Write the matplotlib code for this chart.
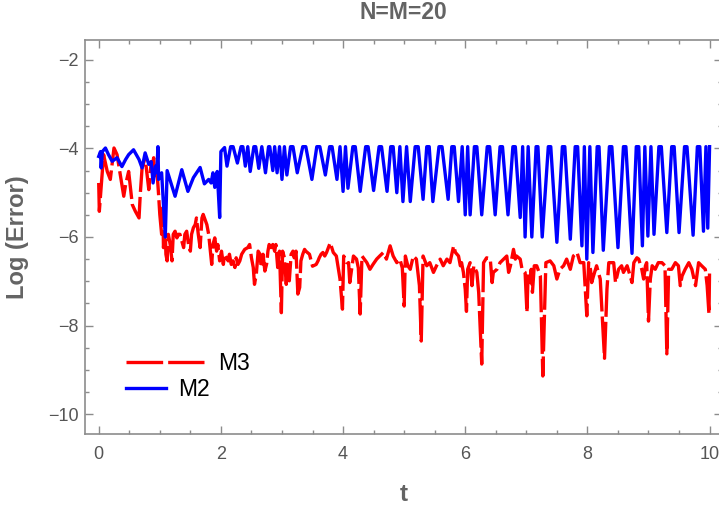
import matplotlib.pyplot as plt
from matplotlib.ticker import MultipleLocator

# ---------- data ----------
# M3 : (t, log error)
m3_pts = [
    (0.00, -4.78), (0.01, -5.42), (0.06, -4.52), (0.08, -4.14), (0.14, -4.52),
    (0.19, -4.70), (0.25, -3.99), (0.30, -4.14), (0.36, -4.66), (0.41, -5.08),
    (0.44, -4.82), (0.49, -4.52), (0.55, -5.27), (0.60, -5.42), (0.66, -5.57),
    (0.68, -5.04), (0.71, -4.44), (0.76, -4.21), (0.82, -4.93), (0.86, -4.30),
    (0.88, -4.36), (0.90, -4.21), (0.92, -4.66), (0.95, -4.44), (0.98, -5.04),
    (1.00, -5.49), (1.03, -5.94), (1.05, -5.34), (1.06, -6.24), (1.09, -5.87),
    (1.10, -6.39), (1.12, -6.54), (1.14, -5.94), (1.17, -6.17), (1.20, -6.54),
    (1.22, -5.94), (1.25, -5.87), (1.28, -6.02), (1.30, -5.94), (1.33, -5.94),
    (1.36, -6.09), (1.39, -6.24), (1.41, -5.94), (1.44, -5.87), (1.47, -6.17),
    (1.50, -6.32), (1.52, -5.94), (1.55, -5.79), (1.58, -5.72), (1.60, -5.57),
    (1.63, -5.94), (1.66, -6.24), (1.69, -5.57), (1.71, -5.49), (1.77, -5.72),
    (1.80, -5.94), (1.85, -6.62), (1.87, -6.17), (1.90, -6.02), (1.93, -6.32),
    (1.95, -6.17), (1.98, -6.54), (2.01, -6.32), (2.04, -6.62), (2.06, -6.39),
    (2.09, -6.47), (2.12, -6.54), (2.14, -6.39), (2.17, -6.62), (2.20, -6.54),
    (2.23, -6.69), (2.25, -6.47), (2.28, -6.62), (2.31, -6.54), (2.34, -6.39),
    (2.39, -6.28), (2.44, -6.24), (2.47, -6.17), (2.50, -6.47), (2.53, -6.69),
    (2.55, -7.07), (2.58, -6.84), (2.61, -6.32), (2.64, -6.39), (2.66, -6.69),
    (2.69, -6.39), (2.72, -6.77), (2.75, -6.60), (2.77, -6.32), (2.79, -6.17),
    (2.82, -6.24), (2.85, -6.17), (2.88, -6.32), (2.90, -6.17), (2.93, -6.69),
    (2.96, -6.32), (2.99, -7.71), (3.01, -6.32), (3.04, -6.47), (3.07, -7.07),
    (3.09, -6.62), (3.12, -6.99), (3.15, -6.39), (3.18, -6.32), (3.20, -6.47),
    (3.23, -6.32), (3.26, -7.29), (3.29, -7.14), (3.31, -6.54), (3.34, -6.39),
    (3.37, -6.28), (3.39, -6.32), (3.45, -6.39), (3.50, -6.66), (3.56, -6.62),
    (3.59, -6.54), (3.61, -6.47), (3.64, -6.39), (3.67, -6.35), (3.70, -6.43),
    (3.73, -6.35), (3.79, -6.13), (3.84, -6.35), (3.89, -6.43), (3.95, -6.95),
    (3.99, -7.63), (4.01, -6.43), (4.06, -6.58), (4.09, -6.58), (4.11, -7.03),
    (4.17, -6.43), (4.22, -6.50), (4.25, -6.70), (4.28, -7.74), (4.31, -6.43),
    (4.39, -6.58), (4.44, -6.73), (4.49, -6.62), (4.55, -6.50), (4.60, -6.43),
    (4.66, -6.35), (4.71, -6.50), (4.77, -6.20), (4.82, -6.43), (4.88, -6.58),
    (4.93, -6.50), (4.97, -6.70), (5.00, -7.56), (5.02, -6.43), (5.06, -6.65),
    (5.10, -6.73), (5.15, -6.43), (5.20, -6.50), (5.25, -7.10), (5.28, -8.35),
    (5.31, -6.43), (5.37, -6.65), (5.42, -6.58), (5.48, -6.80), (5.53, -6.65),
    (5.59, -6.50), (5.64, -6.65), (5.70, -6.50), (5.75, -6.58), (5.81, -6.20),
    (5.84, -6.35), (5.89, -6.43), (5.92, -6.65), (5.94, -6.58), (5.97, -6.80),
    (6.00, -7.18), (6.02, -7.68), (6.04, -6.73), (6.08, -6.58), (6.11, -7.10),
    (6.14, -6.65), (6.19, -6.80), (6.22, -7.25), (6.27, -8.87), (6.30, -6.58),
    (6.35, -6.47), (6.41, -6.50), (6.44, -7.03), (6.46, -6.80), (6.52, -6.73),
    (6.57, -6.58), (6.63, -6.50), (6.68, -6.43), (6.71, -6.80), (6.74, -6.65),
    (6.79, -6.28), (6.82, -6.50), (6.84, -6.43), (6.90, -6.50), (6.93, -6.73),
    (6.98, -6.80), (7.01, -7.70), (7.03, -6.80), (7.06, -7.03), (7.08, -6.73),
    (7.10, -7.25), (7.13, -6.65), (7.17, -6.65), (7.23, -6.88), (7.27, -9.14),
    (7.32, -6.58), (7.39, -6.54), (7.45, -6.65), (7.50, -6.95), (7.55, -6.73),
    (7.61, -6.65), (7.66, -6.50), (7.72, -6.73), (7.77, -6.43), (7.83, -6.35),
    (7.88, -6.58), (7.94, -6.58), (7.99, -7.78), (8.02, -6.58), (8.05, -6.73),
    (8.07, -7.03), (8.10, -6.88), (8.15, -6.65), (8.21, -6.95), (8.28, -8.74),
    (8.32, -7.18), (8.35, -6.58), (8.43, -6.58), (8.46, -7.03), (8.51, -6.73),
    (8.56, -6.65), (8.59, -6.80), (8.65, -6.65), (8.70, -6.88), (8.73, -7.03),
    (8.76, -6.58), (8.81, -6.47), (8.84, -6.50), (8.89, -6.73), (8.92, -6.95),
    (8.95, -6.65), (8.97, -6.58), (9.00, -7.90), (9.03, -6.95), (9.06, -6.65),
    (9.11, -6.73), (9.16, -6.58), (9.22, -6.58), (9.27, -6.65), (9.30, -8.64),
    (9.33, -6.73), (9.38, -6.73), (9.44, -6.58), (9.49, -6.65), (9.52, -7.10),
    (9.55, -6.88), (9.60, -6.73), (9.66, -6.58), (9.71, -6.73), (9.77, -7.10),
    (9.82, -6.58), (9.87, -6.65), (9.93, -6.73), (9.96, -7.10), (9.99, -7.74),
    (10.00, -6.73),
]

# M2 : (t, log error)
m2_pts = [
    (0.00, -4.18), (0.03, -4.07), (0.04, -4.44), (0.06, -4.07), (0.11, -3.99),
    (0.16, -4.14), (0.22, -4.29), (0.30, -4.21), (0.38, -4.41), (0.44, -4.25),
    (0.49, -4.14), (0.57, -4.03), (0.66, -4.25), (0.71, -4.44), (0.76, -4.10),
    (0.82, -4.36), (0.86, -4.30), (0.89, -4.78), (0.93, -4.40), (0.95, -4.55),
    (0.97, -3.96), (0.98, -4.70), (1.03, -4.55), (1.09, -6.00), (1.12, -4.50),
    (1.25, -5.08), (1.36, -4.48), (1.46, -4.97), (1.55, -4.66), (1.66, -4.43),
    (1.73, -4.80), (1.80, -4.70), (1.84, -4.78), (1.87, -4.55), (1.90, -4.88),
    (1.94, -4.52), (1.98, -5.56), (2.00, -4.07), (2.06, -3.98), (2.10, -4.40),
    (2.16, -3.96), (2.20, -3.96), (2.27, -4.33), (2.33, -3.96), (2.36, -3.96),
    (2.40, -4.40), (2.44, -3.96), (2.48, -4.52), (2.54, -3.96), (2.57, -3.96),
    (2.62, -4.45), (2.67, -3.96), (2.73, -4.55), (2.78, -3.96), (2.80, -3.96),
    (2.85, -4.50), (2.88, -3.96), (2.92, -4.55), (2.96, -3.96), (3.00, -4.70),
    (3.04, -3.96), (3.08, -4.60), (3.14, -3.96), (3.18, -3.96), (3.25, -4.55),
    (3.34, -3.96), (3.39, -3.96), (3.49, -4.70), (3.57, -3.96), (3.62, -3.96),
    (3.71, -4.60), (3.78, -3.96), (3.82, -3.96), (3.90, -4.70), (3.95, -3.96),
    (4.00, -4.97), (4.04, -3.96), (4.08, -4.90), (4.16, -3.96), (4.20, -3.96),
    (4.28, -4.97), (4.37, -3.96), (4.41, -3.96), (4.50, -4.95), (4.59, -3.96),
    (4.63, -3.96), (4.72, -4.97), (4.78, -3.96), (4.82, -3.96), (4.88, -5.00),
    (4.93, -3.96), (4.98, -5.20), (5.04, -3.96), (5.10, -5.20), (5.18, -3.96),
    (5.23, -3.96), (5.31, -5.15), (5.37, -3.96), (5.41, -3.96), (5.47, -5.20),
    (5.57, -3.96), (5.62, -3.96), (5.72, -5.15), (5.78, -3.96), (5.82, -3.96),
    (5.89, -5.20), (5.95, -3.96), (6.00, -5.50), (6.04, -3.96), (6.08, -5.50),
    (6.15, -3.96), (6.19, -3.96), (6.27, -5.50), (6.36, -3.96), (6.40, -3.96),
    (6.49, -5.50), (6.57, -3.96), (6.61, -3.96), (6.70, -5.50), (6.78, -3.96),
    (6.82, -3.96), (6.90, -5.56), (6.94, -3.96), (6.98, -6.00), (7.03, -3.96),
    (7.09, -6.00), (7.16, -3.96), (7.19, -3.96), (7.26, -6.00), (7.36, -3.96),
    (7.40, -3.96), (7.50, -6.12), (7.59, -3.96), (7.63, -3.96), (7.72, -6.05),
    (7.80, -3.96), (7.84, -3.96), (7.91, -6.20), (7.95, -3.96), (7.99, -6.50),
    (8.04, -3.96), (8.09, -6.35), (8.16, -3.96), (8.19, -3.96), (8.26, -6.30),
    (8.36, -3.96), (8.40, -3.96), (8.50, -6.24), (8.59, -3.96), (8.63, -3.96),
    (8.73, -6.37), (8.80, -3.96), (8.84, -3.96), (8.90, -6.20), (8.94, -3.96),
    (8.99, -5.98), (9.04, -3.96), (9.09, -5.94), (9.17, -3.96), (9.21, -3.96),
    (9.30, -5.90), (9.38, -3.96), (9.42, -3.96), (9.50, -5.90), (9.59, -3.96),
    (9.63, -3.96), (9.73, -5.96), (9.80, -3.96), (9.84, -3.96), (9.90, -5.87),
    (9.94, -3.96), (9.97, -5.80), (10.00, -3.96),
]

x_ticks = [0, 2, 4, 6, 8, 10]
y_ticks = [-10, -8, -6, -4, -2]

m3_t, m3_y = zip(*m3_pts)
m2_t, m2_y = zip(*m2_pts)

plt.rcParams['font.family'] = ['Liberation Sans', 'DejaVu Sans']

FRAME = '#8c8c8c'
LABEL = '#646464'

fig = plt.figure(figsize=(7.19, 5.08), dpi=100)
ax = fig.add_axes([0.1186, 0.1457, 0.8853, 0.7756])

red_line, = ax.plot(m3_t, m3_y, color='#ff0000', lw=2.4, dashes=(11, 1.5))
blue_line, = ax.plot(m2_t, m2_y, color='#0000ff', lw=2.4)

ax.set_xlim(-0.22, 10.2)
ax.set_ylim(-10.45, -1.55)
ax.set_xticks(x_ticks)
ax.set_yticks(y_ticks)
ax.xaxis.set_minor_locator(MultipleLocator(0.5))
ax.yaxis.set_minor_locator(MultipleLocator(0.5))

ax.tick_params(which='both', direction='in', top=True, right=True,
               color=FRAME, width=1, labelcolor='#555555', labelsize=13)
ax.tick_params(which='major', length=5.5)
ax.tick_params(which='minor', length=3)
ax.tick_params(axis='x', pad=9)
ax.tick_params(axis='y', pad=5)
for s in ax.spines.values():
    s.set_color(FRAME)
    s.set_linewidth(1.2)

ax.set_title('N=M=20', fontsize=16.5, fontweight='bold', color=LABEL, pad=15)
ax.set_xlabel('t', fontsize=17.5, fontweight='bold', color=LABEL, labelpad=14)
ax.set_ylabel('Log (Error)', fontsize=17, fontweight='bold', color=LABEL)
ax.yaxis.set_label_coords(-0.088, 0.5)

# two legends so that the handles get different lengths, as in the reference
leg1 = ax.legend([red_line], ['M3'], loc='center left', bbox_to_anchor=(0.064, 0.178),
                 frameon=False, fontsize=16.5, handlelength=3.4, handletextpad=0.6,
                 borderpad=0, borderaxespad=0)
ax.add_artist(leg1)
ax.legend([blue_line], ['M2'], loc='center left', bbox_to_anchor=(0.064, 0.114),
          frameon=False, fontsize=16.5, handlelength=1.75, handletextpad=0.52,
          borderpad=0, borderaxespad=0)

fig.savefig('out.png', dpi=100)
